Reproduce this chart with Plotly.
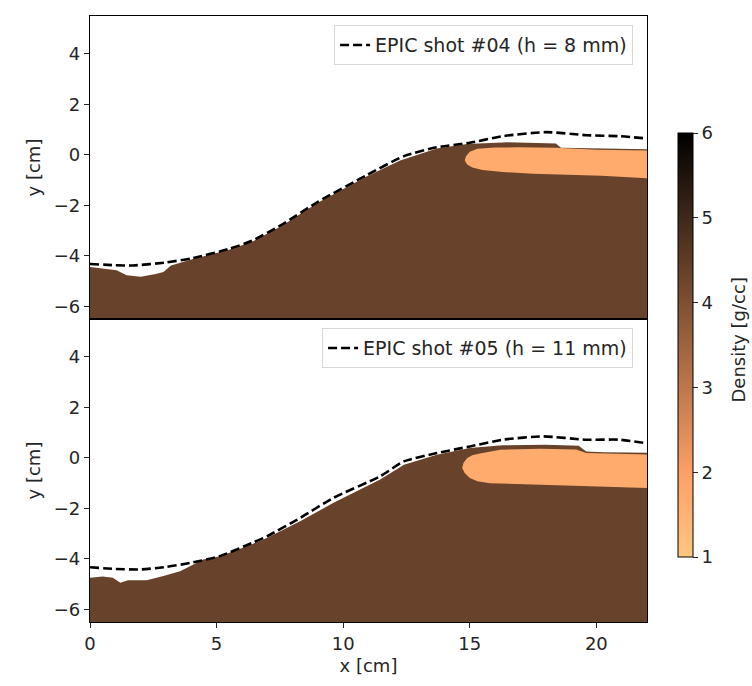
import plotly.graph_objects as go
from plotly.subplots import make_subplots

# ---------------- data ----------------
# Panel 1: EPIC shot #04 measured surface (dashed)
epic04_x = [0, 1.0, 1.7, 3.0, 4.0, 5.5, 6.4, 7.6, 9.0, 10.9, 12.4, 13.7, 15.0, 16.3, 18.0, 19.6, 20.9, 22]
epic04_y = [-4.32, -4.37, -4.38, -4.26, -4.1, -3.72, -3.4, -2.75, -1.86, -0.82, -0.05, 0.3, 0.48, 0.74, 0.9, 0.78, 0.74, 0.65]

# Panel 1: simulated material surface (density field top)
sim04_x = [0, 0.5, 1.05, 1.45, 2.0, 2.6, 2.9, 3.2, 4.0, 5.5, 6.4, 7.6, 9.0, 10.9, 12.25, 13.7, 14.9, 16.5, 18.4, 18.6, 20.0, 22]
sim04_y = [-4.44, -4.5, -4.57, -4.77, -4.83, -4.72, -4.64, -4.38, -4.14, -3.76, -3.44, -2.8, -1.9, -0.87, -0.22, 0.25, 0.43, 0.5, 0.45, 0.28, 0.25, 0.22]

# Panel 1: low-density void (upper and lower boundary)
void04_top_x = [14.8, 14.85, 15.0, 15.3, 16.0, 16.9, 18.4, 20.0, 22.0]
void04_top_y = [-0.22, -0.05, 0.12, 0.24, 0.29, 0.3, 0.28, 0.2, 0.17]
void04_bot_x = [14.8, 14.9, 15.1, 15.5, 16.3, 17.5, 19.0, 20.2, 22.0]
void04_bot_y = [-0.22, -0.38, -0.5, -0.6, -0.68, -0.75, -0.8, -0.83, -0.93]

# Panel 2: EPIC shot #05 measured surface (dashed)
epic05_x = [0, 1.0, 2.0, 3.0, 3.95, 5.1, 6.4, 7.0, 8.3, 9.6, 11.46, 12.4, 13.7, 15.0, 16.3, 17.9, 19.6, 20.9, 22]
epic05_y = [-4.33, -4.4, -4.42, -4.32, -4.16, -3.9, -3.37, -3.1, -2.38, -1.59, -0.73, -0.14, 0.19, 0.45, 0.72, 0.85, 0.72, 0.72, 0.58]

# Panel 2: simulated material surface
sim05_x = [0, 0.5, 0.9, 1.2, 1.5, 2.24, 2.9, 3.56, 4.47, 5.14, 6.4, 7.0, 8.3, 9.6, 11.46, 12.4, 13.7, 15.0, 16.3, 18.0, 19.3, 19.6, 20.3, 22]
sim05_y = [-4.75, -4.7, -4.75, -4.95, -4.85, -4.85, -4.68, -4.49, -4.02, -3.9, -3.42, -3.16, -2.51, -1.79, -0.86, -0.27, 0.12, 0.39, 0.5, 0.52, 0.48, 0.25, 0.22, 0.2]

# Panel 2: low-density void
void05_top_x = [14.7, 14.75, 14.9, 15.1, 15.4, 16.2, 17.8, 19.2, 19.6, 22.0]
void05_top_y = [-0.4, -0.2, 0.0, 0.1, 0.17, 0.32, 0.36, 0.33, 0.19, 0.13]
void05_bot_x = [14.7, 14.8, 15.0, 15.3, 15.8, 16.5, 17.5, 19.5, 22.0]
void05_bot_y = [-0.4, -0.6, -0.8, -0.93, -1.0, -1.03, -1.06, -1.12, -1.19]

# Densities [g/cc]
rho_material = 4.35
rho_void = 1.7
rho_range = [1, 6]

legend_names = ["EPIC shot #04 (h = 8 mm)", "EPIC shot #05 (h = 11 mm)"]
colorbar_title = "Density [g/cc]"
x_ticks = [0, 5, 10, 15, 20]
y_ticks = [-6, -4, -2, 0, 2, 4]
cb_ticks = [1, 2, 3, 4, 5, 6]

X_RANGE = [0, 22]
Y_RANGE = [-6.5, 5.5]

# ---------------- colour map (matplotlib copper_r) ----------------
def copper_rgb(c):
    r = min(1.0, 1.2353 * c)
    g = 0.7812 * c
    b = 0.4975 * c
    return (round(255 * r), round(255 * g), round(255 * b))

def copper_r_color(v):
    t = (v - rho_range[0]) / (rho_range[1] - rho_range[0])
    r, g, b = copper_rgb(1 - t)
    return f"rgb({r},{g},{b})"

colorscale = [
    [0.0, "rgb(%d,%d,%d)" % copper_rgb(1.0)],
    [1 - 0.809524, "rgb(%d,%d,%d)" % copper_rgb(0.809524)],
    [1.0, "rgb(%d,%d,%d)" % copper_rgb(0.0)],
]

FONT = "DejaVu Sans"
TXT = "#262626"
FS = 18

fig = make_subplots(rows=2, cols=1, shared_xaxes=True, vertical_spacing=0)

panels = [
    (sim04_x, sim04_y, void04_top_x, void04_top_y, void04_bot_x, void04_bot_y, epic04_x, epic04_y, "legend"),
    (sim05_x, sim05_y, void05_top_x, void05_top_y, void05_bot_x, void05_bot_y, epic05_x, epic05_y, "legend2"),
]

for i, (sx, sy, vtx, vty, vbx, vby, ex, ey, lg) in enumerate(panels):
    row = i + 1
    # material body: surface then down to bottom of axes
    fig.add_trace(go.Scatter(
        x=list(sx) + [X_RANGE[1], X_RANGE[0]],
        y=list(sy) + [Y_RANGE[0], Y_RANGE[0]],
        fill="toself", fillcolor=copper_r_color(rho_material),
        mode="lines", line=dict(width=0), showlegend=False, hoverinfo="skip",
    ), row=row, col=1)
    # void
    fig.add_trace(go.Scatter(
        x=list(vtx) + list(vbx[::-1]),
        y=list(vty) + list(vby[::-1]),
        fill="toself", fillcolor=copper_r_color(rho_void),
        mode="lines", line=dict(width=0), showlegend=False, hoverinfo="skip",
    ), row=row, col=1)
    # measured surface
    fig.add_trace(go.Scatter(
        x=ex, y=ey, mode="lines", name=legend_names[i],
        line=dict(color="black", width=2.6, dash="9px,4px", shape="spline", smoothing=0.6),
        legend=lg, showlegend=True,
    ), row=row, col=1)

# colour bar
fig.add_trace(go.Scatter(
    x=[None], y=[None], mode="markers", showlegend=False, hoverinfo="skip",
    marker=dict(
        color=rho_range, cmin=rho_range[0], cmax=rho_range[1], colorscale=colorscale,
        showscale=True, opacity=0,
        colorbar=dict(
            x=1.0557, xanchor="left", xpad=0, y=0.457, yanchor="middle", ypad=0,
            len=0.70, lenmode="fraction",
            thickness=15, outlinewidth=1, outlinecolor="black",
            tickvals=cb_ticks, ticks="outside", ticklen=5, tickcolor=TXT,
            tickfont=dict(family=FONT, size=FS, color=TXT),
        ),
    ),
), row=1, col=1)

fig.add_annotation(
    text=colorbar_title, xref="paper", yref="paper", x=1.164, y=0.465,
    xanchor="center", yanchor="middle", textangle=-90, showarrow=False,
    font=dict(family=FONT, size=FS, color=TXT),
)

axis_common = dict(
    range=X_RANGE, showgrid=False, zeroline=False, showline=True, linecolor="black",
    linewidth=1.2, mirror=True, ticks="outside", ticklen=5, tickcolor=TXT,
    tickfont=dict(family=FONT, size=FS, color=TXT), automargin=False,
)
fig.update_xaxes(**axis_common, tickvals=x_ticks)
fig.update_xaxes(showticklabels=False, ticks="", row=1, col=1)
fig.update_xaxes(title=dict(text="x [cm]", font=dict(family=FONT, size=FS, color=TXT), standoff=6), row=2, col=1)
yax = dict(axis_common)
yax["range"] = Y_RANGE
fig.update_yaxes(**yax, tickvals=y_ticks,
                 title=dict(text="y [cm]", font=dict(family=FONT, size=FS, color=TXT), standoff=8))

legend_common = dict(
    xanchor="right", yanchor="top", bgcolor="rgba(255,255,255,0.85)",
    bordercolor="#d8d8d8", borderwidth=1,
    font=dict(family=FONT, size=19, color=TXT), itemwidth=30,
)
fig.update_layout(
    width=752, height=686,
    margin=dict(l=90, r=105, t=16, b=64, autoexpand=False),
    paper_bgcolor="white", plot_bgcolor="white",
    showlegend=True,
    legend=dict(**legend_common, x=0.975, y=0.985),
    legend2=dict(**legend_common, x=0.975, y=0.485),
)

fig.write_html(
    "out.html",
    config={"displayModeBar": False},
    post_script="document.body.style.margin='0';document.body.style.padding='0';",
)
